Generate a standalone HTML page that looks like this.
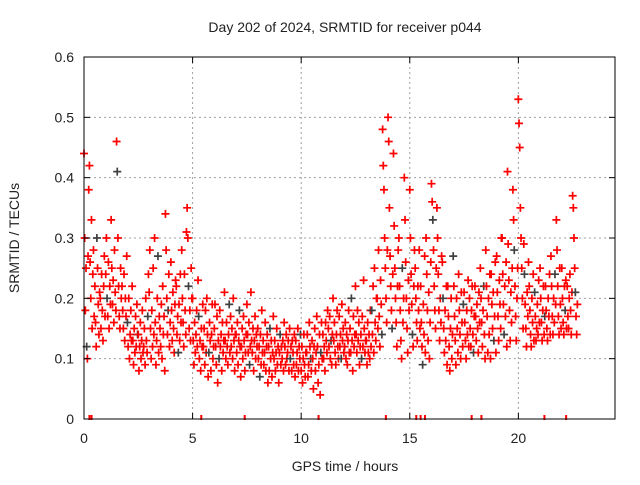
<!DOCTYPE html>
<html><head><meta charset="utf-8">
<style>
body{margin:0;background:#fff;}
svg text{font-family:"Liberation Sans",sans-serif;font-size:14px;fill:#222;}
</style></head>
<body>
<svg id="chart" width="640" height="480">
<rect width="640" height="480" fill="#fff"/>
<g id="grid"></g>
<g id="pts"></g>
<g id="axes"></g>
<text x="345" y="32" text-anchor="middle">Day 202 of 2024, SRMTID for receiver p044</text>
<text x="345" y="471" text-anchor="middle">GPS time / hours</text>
<text transform="translate(19,238) rotate(-90)" text-anchor="middle">SRMTID / TECUs</text>
</svg>
<script>
const bucketTimes=[0,0.25,0.5,0.75,1,1.25,1.5,1.75,2,2.25,2.5,2.75,3,3.25,3.5,3.75,4,4.25,4.5,4.75,5,5.25,5.5,5.75,6,6.25,6.5,6.75,7,7.25,7.5,7.75,8,8.25,8.5,8.75,9,9.25,9.5,9.75,10,10.25,10.5,10.75,11,11.25,11.5,11.75,12,12.25,12.5,12.75,13,13.25,13.5,13.75,14,14.25,14.5,14.75,15,15.25,15.5,15.75,16,16.25,16.5,16.75,17,17.25,17.5,17.75,18,18.25,18.5,18.75,19,19.25,19.5,19.75,20,20.25,20.5,20.75,21,21.25,21.5,21.75,22,22.25,22.5];
const bucketValues=[
[44,30,18,25,12,10,27,38],[42,26,20,33,15,24,28,17],[22,16,12,30,25,19,14,21],[20,15,24,18,13,22,27,17],
[24,30,20,17,26,15,22,19],[33,25,19,23,16,28,21,18],[46,41,30,22,17,15,25,20],[22,18,15,24,13,20,17,27],
[16,12,20,10,14,18,13,22],[13,9,15,11,17,12,19,14],[14,8,12,16,10,13,18,11],[12,15,9,20,13,11,17,24],
[21,28,15,10,18,12,25,14],[30,16,9,13,20,27,11,17],[15,12,19,10,22,14,17,8],[34,28,20,14,18,24,12,16],
[26,18,13,21,15,11,19,23],[22,14,17,11,19,13,24,16],[28,20,16,12,24,18,14,31],[35,30,22,15,18,13,25,20],
[20,13,9,16,11,14,18,12],[23,17,10,13,8,15,12,19],[12,15,9,18,11,20,14,7],[11,16,13,8,14,19,10,12],
[15,19,12,9,17,6,13,10],[18,12,14,8,16,11,13,21],[13,10,16,12,9,14,19,11],[17,12,15,10,20,13,8,14],
[14,11,16,9,13,18,12,7],[12,15,10,17,13,8,11,14],[19,14,11,16,9,12,21,13],[11,15,8,13,17,10,14,12],
[15,10,12,7,14,9,18,11],[13,9,11,16,8,12,14,6],[12,8,15,10,13,7,11,17],[10,13,8,11,15,9,12,6],
[11,14,9,12,10,13,8,16],[12,9,14,10,11,13,8,15],[10,12,8,13,11,9,14,7],[13,9,11,15,8,12,10,14],
[8,12,6,10,14,9,7,11],[11,14,7,9,16,12,10,8],[13,10,5,12,15,8,11,17],[12,6,9,14,4,11,16,10],
[14,10,12,8,16,13,11,18],[15,12,17,10,13,9,14,20],[13,16,11,9,14,18,12,10],[17,12,14,10,19,13,15,11],
[12,16,10,14,9,13,18,11],[15,11,20,13,8,17,12,14],[22,14,11,18,13,16,9,12],[14,10,17,12,23,15,11,13],
[13,9,16,11,14,10,18,12],[18,14,22,11,25,16,13,20],[20,15,28,17,12,23,19,14],[48,42,38,30,25,20,16,28],
[50,46,35,27,22,18,15,24],[44,32,25,20,16,12,22,28],[30,22,18,13,10,25,16,20],[40,33,26,20,15,11,23,18],
[38,30,24,19,14,12,22,28],[25,20,16,13,22,18,28,15],[22,16,12,9,19,14,27,11],[30,24,18,13,21,10,16,26],
[39,36,33,28,22,18,15,25],[35,30,24,18,13,20,16,27],[26,20,15,11,18,13,22,9],[22,17,12,8,15,20,10,14],
[27,22,17,13,9,20,15,11],[24,18,14,10,21,16,12,19],[21,16,13,10,18,14,23,12],[20,15,12,18,22,14,11,17],
[22,17,13,19,15,11,21,16],[25,20,16,12,18,22,14,10],[28,22,17,11,20,14,24,10],[24,19,15,21,13,17,26,11],
[27,21,17,13,23,19,15,30],[30,24,19,14,22,17,26,12],[41,29,23,18,13,21,16,25],[38,33,28,22,17,13,20,25],
[53,49,45,35,30,25,20,15],[29,24,19,15,12,21,17,26],[22,18,14,12,20,16,24,13],[21,17,13,15,19,14,23,16],
[25,20,16,13,18,22,14,17],[22,18,15,13,20,17,24,14],[27,22,17,14,20,16,24,19],[33,28,22,17,14,25,19,15],
[25,20,16,14,22,18,23,15],[22,17,15,20,24,18,14,21],[37,35,30,25,21,17,14,19]];
const xTicks=[0,5,10,15,20];
const yTicks=[0,0.1,0.2,0.3,0.4,0.5,0.6];
const gapTimes=[0.25,0.35,5.4,7.4,10.8,13.9,15.3,15.5,15.7,17.85,18.3,21.2,22.2];

const L=84,R=615,T=57,B=419,XMAX=24.45,YMAX=0.6;
const sx=t=>L+t/XMAX*(R-L), sy=v=>B-v/YMAX*(B-T);
const NS="http://www.w3.org/2000/svg";
function mk(tag,attrs,parent){const e=document.createElementNS(NS,tag);for(const k in attrs)e.setAttribute(k,attrs[k]);parent.appendChild(e);return e;}
const grid=document.getElementById('grid'),axes=document.getElementById('axes'),pts=document.getElementById('pts');
xTicks.forEach(t=>{
  const x=sx(t);
  const g=mk('line',{x1:x,x2:x,y1:T,y2:B,stroke:'#a0a0a0','stroke-dasharray':'2,3'},grid);
  
  
  mk('line',{x1:x,x2:x,y1:B,y2:B-6,stroke:'#000'},axes);
  mk('line',{x1:x,x2:x,y1:T,y2:T+6,stroke:'#000'},axes);
  const lb=mk('text',{x:x,y:B+24,'text-anchor':'middle'},axes);lb.textContent=t;
  
  
});
yTicks.forEach(v=>{
  const y=sy(v);
  const g=mk('line',{x1:L,x2:R,y1:y,y2:y,stroke:'#a0a0a0','stroke-dasharray':'2,3'},grid);
  
  
  mk('line',{x1:L,x2:L+6,y1:y,y2:y,stroke:'#000'},axes);
  mk('line',{x1:R,x2:R-6,y1:y,y2:y,stroke:'#000'},axes);
  const lb=mk('text',{x:L-10,y:y+5,'text-anchor':'end'},axes);lb.textContent=v;
  
  
});
let k=0;
bucketTimes.forEach((t,i)=>{
  const vals=bucketValues[i];
  vals.forEach((v,j)=>{
    const x=sx(t+j*0.031),y=sy(v/100);
    const col=(k%15===4)?'#404040':'#ff0000';
    const p=mk('path',{d:`M${x-4},${y}h8M${x},${y-4}v8`,stroke:col,'stroke-width':1.7,fill:'none'},pts);
    
    
    k++;
  });
});
gapTimes.forEach(t=>{
  const x=sx(t);
  const m=mk('rect',{x:x-1,y:B-4,width:2,height:5,fill:'#ff0000'},pts);
  
  
});
const fr=mk('rect',{x:L,y:T,width:R-L,height:B-T,fill:'none',stroke:'#000','stroke-width':1},axes);


</script>
</body></html>
